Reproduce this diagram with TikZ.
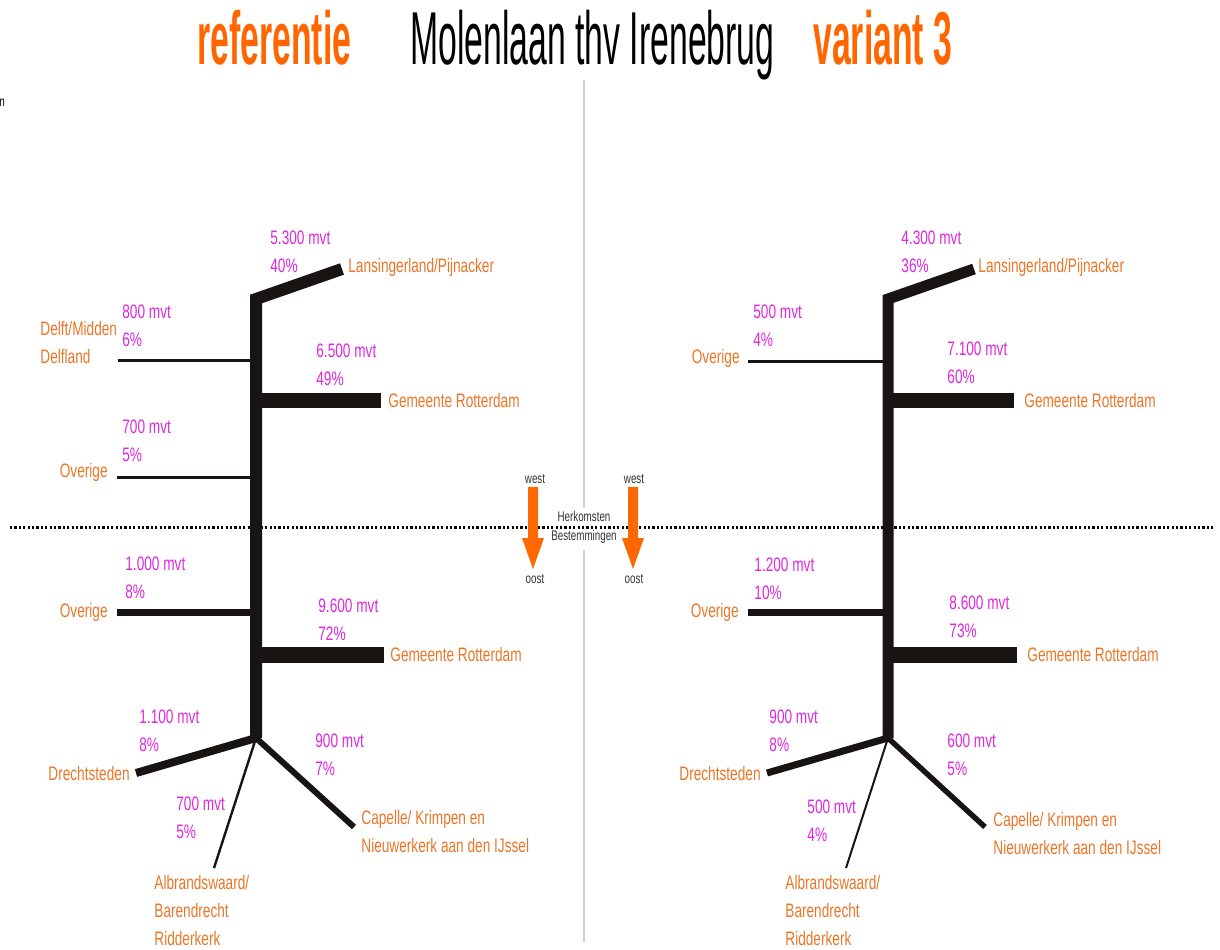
\documentclass[tikz,border=0pt]{standalone}
\usepackage{fontspec}
\setmainfont{Liberation Sans}
\newfontfamily\labfont[FakeStretch=0.7]{Liberation Sans}
\newfontfamily\ttlfont[FakeStretch=0.45]{Liberation Sans}
\definecolor{ttlorange}{RGB}{255,102,0}
\definecolor{plorange}{RGB}{234,118,40}
\definecolor{valmag}{RGB}{222,40,222}
\definecolor{arrorange}{RGB}{255,104,0}
\definecolor{midgray}{RGB}{210,210,210}
\definecolor{trunkblack}{RGB}{25,20,20}
\newcommand\twoval[5]{%
  \node[val] (#1a) at (#2,#3) {#4};
  \node[val] (#1b) at (#2,#3+28) {#5};}
\begin{document}
\begin{tikzpicture}[x=0.5pt,y=-0.5pt,
  val/.style={anchor=base west, inner sep=0pt, text=valmag, font=\labfont\fontsize{9.75pt}{14pt}\selectfont},
  place/.style={anchor=base west, inner sep=0pt, text=plorange, font=\labfont\fontsize{9.75pt}{14pt}\selectfont},
  placer/.style={place, anchor=base east},
  small/.style={anchor=base, inner sep=0pt, text=black!80, font=\labfont\fontsize{7pt}{8pt}\selectfont},
  ttl/.style={anchor=base west, inner sep=0pt, font=\ttlfont\fontsize{37.5pt}{44pt}\selectfont},
  flow/.style={draw=trunkblack, line cap=butt},
  orarrow/.style={fill=arrorange}]
\fill[white] (0,0) rectangle (1220,949);
\useasboundingbox (0,0) rectangle (1220,949);

% title
\node[ttl, text=ttlorange, font=\ttlfont\bfseries\fontsize{37.5pt}{44pt}\selectfont] (tref) at (197,64) {referentie};
\node[ttl, text=black] (tmid) at (410,64) {Molenlaan thv Irenebrug};
\node[ttl, text=ttlorange, font=\ttlfont\bfseries\fontsize{37.5pt}{44pt}\selectfont] (tvar) at (813,64) {variant 3};
\node[anchor=base west, inner sep=0pt, font=\labfont\fontsize{7pt}{8pt}\selectfont] (stray) at (-1,106) {n};

% middle gray line
\coordinate (g1) at (584,80);
\coordinate (g2) at (584,508);
\coordinate (g3) at (584,550);
\coordinate (g4) at (584,942);
\draw[midgray, line width=1pt] (g1) -- (g2);
\draw[midgray, line width=1pt] (g3) -- (g4);

% dotted divider
\coordinate (d1) at (10,527);
\coordinate (d2) at (1214,527);
\draw[black, line width=1.5pt, dash pattern=on 1.1pt off 1.1pt] (d1) -- (d2);

% ---------- left tree ----------
\coordinate (Llans) at (342,269);
\coordinate (Ltop) at (256,299);
\coordinate (Lbot) at (256,738);
\draw[flow, line width=6pt, line join=miter] (Llans) -- (Ltop) -- (Lbot);
\coordinate (Ldelft) at (118,360);
\draw[flow, line width=1.5pt] (256,360) -- (Ldelft);
\coordinate (Lgr1) at (381,400);
\draw[flow, line width=7.5pt] (256,400) -- (Lgr1);
\coordinate (Lov1) at (117,477);
\draw[flow, line width=1.5pt] (256,477) -- (Lov1);
\coordinate (Lov2) at (117,612);
\draw[flow, line width=3.5pt] (256,612) -- (Lov2);
\coordinate (Lgr2) at (384,655);
\draw[flow, line width=8pt] (256,655) -- (Lgr2);
\coordinate (Ldr) at (136,773);
\draw[flow, line width=4pt] (Lbot) -- (Ldr);
\coordinate (Lalb) at (214,868);
\draw[flow, line width=1.2pt] (Lbot) -- (Lalb);
\coordinate (Lcap) at (354,827);
\draw[flow, line width=3pt] (Lbot) -- (Lcap);

% left labels
\twoval{La}{270}{244}{5.300 mvt}{40\%}
\node[place] (Lp1) at (348,272) {Lansingerland/Pijnacker};
\twoval{Lb}{122}{318}{800 mvt}{6\%}
\node[place] (Lp2) at (40,335) {Delft/Midden};
\node[place] (Lp2b) at (40,363) {Delfland};
\twoval{Lc}{316}{357}{6.500 mvt}{49\%}
\node[place] (Lp3) at (388,407) {Gemeente Rotterdam};
\twoval{Ld}{122}{433}{700 mvt}{5\%}
\node[placer] (Lp4) at (108,477) {Overige};
\twoval{Le}{125}{570}{1.000 mvt}{8\%}
\node[placer] (Lp5) at (108,617) {Overige};
\twoval{Lf}{318}{612}{9.600 mvt}{72\%}
\node[place] (Lp6) at (390,661) {Gemeente Rotterdam};
\twoval{Lg}{139}{723}{1.100 mvt}{8\%}
\node[placer] (Lp7) at (130,780) {Drechtsteden};
\twoval{Lh}{315}{747}{900 mvt}{7\%}
\twoval{Li}{176}{810}{700 mvt}{5\%}
\node[place] (Lp8) at (154,889) {Albrandswaard/};
\node[place] (Lp8b) at (154,917) {Barendrecht};
\node[place] (Lp8c) at (154,945) {Ridderkerk};
\node[place] (Lp9) at (361,824) {Capelle/ Krimpen en};
\node[place] (Lp9b) at (361,852) {Nieuwerkerk aan den IJssel};

% ---------- right tree ----------
\coordinate (Rlans) at (974,269);
\coordinate (Rtop) at (888,299);
\coordinate (Rbot) at (888,738);
\draw[flow, line width=5.5pt, line join=miter] (Rlans) -- (Rtop) -- (Rbot);
\coordinate (Rov1) at (748,361);
\draw[flow, line width=1.5pt] (888,361) -- (Rov1);
\coordinate (Rgr1) at (1014,400);
\draw[flow, line width=7.5pt] (888,400) -- (Rgr1);
\coordinate (Rov2) at (748,612);
\draw[flow, line width=3.5pt] (888,612) -- (Rov2);
\coordinate (Rgr2) at (1017,655);
\draw[flow, line width=7.8pt] (888,655) -- (Rgr2);
\coordinate (Rdr) at (767,773);
\draw[flow, line width=3.5pt] (Rbot) -- (Rdr);
\coordinate (Ralb) at (846,868);
\draw[flow, line width=1pt] (Rbot) -- (Ralb);
\coordinate (Rcap) at (985,827);
\draw[flow, line width=2.7pt] (Rbot) -- (Rcap);

% right labels
\twoval{Ra}{901}{244}{4.300 mvt}{36\%}
\node[place] (Rp1) at (978,272) {Lansingerland/Pijnacker};
\twoval{Rb}{753}{318}{500 mvt}{4\%}
\node[placer] (Rp2) at (740,363) {Overige};
\twoval{Rc}{947}{355}{7.100 mvt}{60\%}
\node[place] (Rp3) at (1024,407) {Gemeente Rotterdam};
\twoval{Rd}{754}{571}{1.200 mvt}{10\%}
\node[placer] (Rp4) at (739,617) {Overige};
\twoval{Re}{949}{609}{8.600 mvt}{73\%}
\node[place] (Rp5) at (1027,661) {Gemeente Rotterdam};
\twoval{Rf}{769}{723}{900 mvt}{8\%}
\node[placer] (Rp6) at (761,780) {Drechtsteden};
\twoval{Rg}{947}{747}{600 mvt}{5\%}
\twoval{Rh}{807}{813}{500 mvt}{4\%}
\node[place] (Rp7) at (785,889) {Albrandswaard/};
\node[place] (Rp7b) at (785,917) {Barendrecht};
\node[place] (Rp7c) at (785,945) {Ridderkerk};
\node[place] (Rp8) at (993,826) {Capelle/ Krimpen en};
\node[place] (Rp8b) at (993,854) {Nieuwerkerk aan den IJssel};

% ---------- middle arrows ----------
\fill[orarrow] (528,487) -- (538,487) -- (538,538) -- (544,538) -- (533,569) -- (522,538) -- (528,538) -- cycle;
\fill[orarrow] (628,487) -- (638,487) -- (638,538) -- (644,538) -- (633,569) -- (622,538) -- (628,538) -- cycle;
\node[small] (w1) at (535,483) {west};
\node[small] (o1) at (535,583) {oost};
\node[small] (w2) at (634,483) {west};
\node[small] (o2) at (634,583) {oost};
\node[small] (herk) at (584,521) {Herkomsten};
\node[small] (best) at (584,540) {Bestemmingen};
\end{tikzpicture}
\end{document}
